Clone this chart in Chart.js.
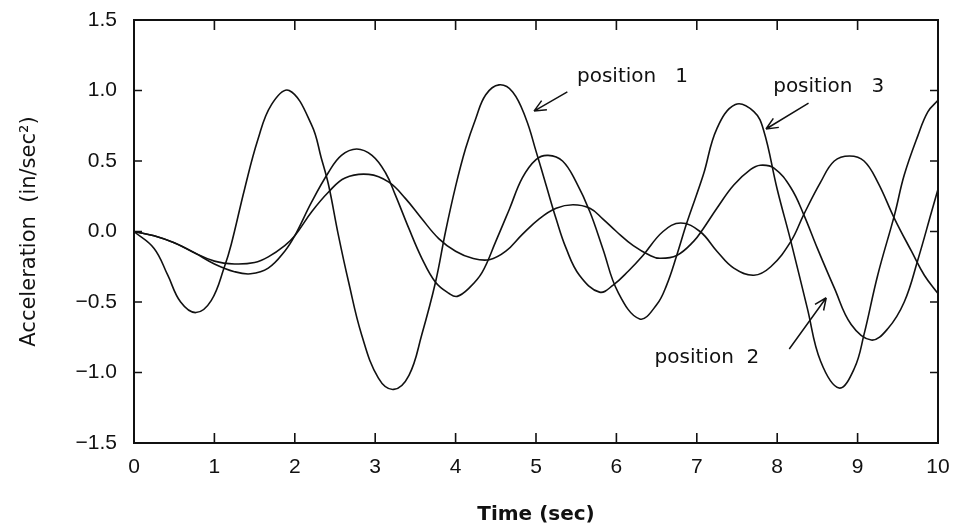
<!DOCTYPE html>
<html>
<head>
<meta charset="utf-8">
<script src="https://cdn.jsdelivr.net/npm/chart.js@4.4.0/dist/chart.umd.min.js"></script>
<style>
  html, body { margin: 0; padding: 0; background: #fff; }
  #wrap { width: 955px; height: 531px; }
</style>
</head>
<body>
<div id="wrap"><canvas id="grafico" width="955" height="531"></canvas></div>
<script>
// acceleration records, time in seconds, acceleration in in/sec^2
const timeP1 = [0, 0.25, 0.42, 0.58, 0.77, 0.96, 1.125, 1.21, 1.375, 1.54, 1.71, 1.93, 2.21, 2.33, 2.42, 2.54, 2.67, 2.83, 3.04, 3.23, 3.42, 3.58, 3.75, 3.875, 4.0, 4.125, 4.25, 4.375, 4.54, 4.71, 4.875, 5.0, 5.125, 5.25, 5.375, 5.54, 5.79, 5.96, 6.15, 6.33, 6.58, 6.8, 7.04, 7.25, 7.46, 7.71, 7.92, 8.17, 8.33, 8.54, 8.71, 8.9, 9.08, 9.25, 9.46, 9.67, 9.83, 10];
const accP1 = [0, -0.12, -0.31, -0.50, -0.575, -0.49, -0.25, -0.09, 0.30, 0.65, 0.90, 1.0, 0.755, 0.52, 0.33, -0.02, -0.36, -0.73, -1.04, -1.12, -1.02, -0.73, -0.36, 0.0, 0.32, 0.59, 0.80, 0.97, 1.04, 0.99, 0.80, 0.57, 0.33, 0.09, -0.12, -0.31, -0.43, -0.38, -0.28, -0.17, 0.0, 0.06, 0.0, -0.14, -0.26, -0.31, -0.25, -0.07, 0.12, 0.35, 0.50, 0.535, 0.50, 0.35, 0.09, -0.14, -0.31, -0.44];

const timeP2 = [0, 0.25, 0.5, 0.75, 1.0, 1.25, 1.5, 1.67, 1.875, 2.0, 2.21, 2.42, 2.625, 2.92, 3.17, 3.375, 3.58, 3.79, 4.0, 4.21, 4.42, 4.625, 4.83, 5.04, 5.25, 5.46, 5.67, 5.83, 6.0, 6.21, 6.42, 6.54, 6.75, 6.96, 7.08, 7.25, 7.46, 7.67, 7.79, 7.96, 8.17, 8.33, 8.5, 8.71, 8.92, 9.17, 9.375, 9.58, 9.75, 9.92, 10];
const accP2 = [0, -0.03, -0.08, -0.15, -0.21, -0.23, -0.22, -0.18, -0.10, -0.03, 0.14, 0.28, 0.38, 0.405, 0.35, 0.235, 0.09, -0.05, -0.14, -0.19, -0.20, -0.14, -0.02, 0.09, 0.165, 0.19, 0.165, 0.09, 0.0, -0.10, -0.17, -0.19, -0.17, -0.07, 0.02, 0.165, 0.33, 0.44, 0.47, 0.45, 0.31, 0.12, -0.12, -0.40, -0.66, -0.77, -0.69, -0.50, -0.20, 0.14, 0.30];

const timeP3 = [0, 0.25, 0.5, 0.75, 1.0, 1.25, 1.45, 1.67, 1.875, 2.0, 2.21, 2.42, 2.58, 2.77, 2.96, 3.125, 3.25, 3.42, 3.58, 3.75, 3.92, 4.02, 4.17, 4.33, 4.5, 4.67, 4.83, 5.0, 5.15, 5.33, 5.5, 5.67, 5.83, 6.02, 6.29, 6.5, 6.625, 6.75, 6.875, 7.08, 7.25, 7.48, 7.71, 7.83, 8.0, 8.17, 8.375, 8.54, 8.77, 8.96, 9.08, 9.25, 9.46, 9.58, 9.75, 9.875, 10];
const accP3 = [0, -0.03, -0.08, -0.15, -0.23, -0.285, -0.30, -0.26, -0.14, -0.03, 0.21, 0.42, 0.54, 0.585, 0.54, 0.42, 0.26, 0.02, -0.19, -0.36, -0.44, -0.46, -0.40, -0.29, -0.07, 0.16, 0.38, 0.51, 0.54, 0.50, 0.35, 0.14, -0.12, -0.43, -0.62, -0.52, -0.38, -0.17, 0.06, 0.40, 0.73, 0.90, 0.85, 0.72, 0.30, -0.07, -0.545, -0.92, -1.11, -0.97, -0.73, -0.31, 0.12, 0.40, 0.68, 0.85, 0.93];

const xTicks = [0, 1, 2, 3, 4, 5, 6, 7, 8, 9, 10];
const yTicks = [-1.5, -1.0, -0.5, 0.0, 0.5, 1.0, 1.5];

// curve labels, anchored in data units (time, acceleration)
const labelNames = ["position   1", "position  2", "position   3"];
const labelAt = [[5.51, 1.095], [6.475, -0.897], [7.95, 1.025]];
const arrowFrom = [[5.39, 0.99], [8.15, -0.833], [8.39, 0.91]];
const arrowTo = [[4.975, 0.854], [8.61, -0.47], [7.86, 0.727]];

const ink = "#111";
const pts = (t, a) => t.map((x, i) => ({ x: x, y: a[i] }));

const serie = (label, t, a) => ({
  label: label,
  data: pts(t, a),
  borderColor: ink,
  borderWidth: 1.6,
  pointRadius: 0,
  fill: false,
  tension: 0.4,
});

// box around the plot with inward tick marks on all four sides
const moldura = {
  id: "moldura",
  afterDatasetsDraw(chart) {
    const { ctx, chartArea: a, scales: { x, y } } = chart;
    ctx.save();
    ctx.strokeStyle = ink;
    ctx.lineWidth = 2;
    ctx.strokeRect(a.left, a.top, a.right - a.left, a.bottom - a.top);
    ctx.lineWidth = 1.6;
    ctx.beginPath();
    xTicks.forEach(v => {
      const px = x.getPixelForValue(v);
      ctx.moveTo(px, a.bottom); ctx.lineTo(px, a.bottom - 10);
      ctx.moveTo(px, a.top); ctx.lineTo(px, a.top + 10);
    });
    yTicks.forEach(v => {
      const py = y.getPixelForValue(v);
      ctx.moveTo(a.left, py); ctx.lineTo(a.left + 8, py);
      ctx.moveTo(a.right, py); ctx.lineTo(a.right - 8, py);
    });
    ctx.stroke();
    ctx.restore();
  }
};

// text labels with open arrows pointing at each curve
const rotulos = {
  id: "rotulos",
  afterDatasetsDraw(chart) {
    const { ctx, scales: { x, y } } = chart;
    ctx.save();
    ctx.fillStyle = ink;
    ctx.strokeStyle = ink;
    ctx.lineWidth = 1.5;
    ctx.font = "20px 'DejaVu Sans'";
    ctx.textBaseline = "middle";
    ctx.textAlign = "left";
    labelNames.forEach((txt, i) => {
      ctx.fillText(txt, x.getPixelForValue(labelAt[i][0]), y.getPixelForValue(labelAt[i][1]));
      const x0 = x.getPixelForValue(arrowFrom[i][0]), y0 = y.getPixelForValue(arrowFrom[i][1]);
      const x1 = x.getPixelForValue(arrowTo[i][0]), y1 = y.getPixelForValue(arrowTo[i][1]);
      const ang = Math.atan2(y1 - y0, x1 - x0);
      ctx.beginPath();
      ctx.moveTo(x0, y0);
      ctx.lineTo(x1, y1);
      [0.42, -0.42].forEach(d => {
        ctx.moveTo(x1, y1);
        ctx.lineTo(x1 - 13 * Math.cos(ang + d), y1 - 13 * Math.sin(ang + d));
      });
      ctx.stroke();
    });
    ctx.restore();
  }
};

const fonteTicks = { family: "'Liberation Sans'", size: 21 };

new Chart(document.getElementById("grafico").getContext("2d"), {
  type: "line",
  data: {
    datasets: [
      serie("position 1", timeP1, accP1),
      serie("position 2", timeP2, accP2),
      serie("position 3", timeP3, accP3),
    ],
  },
  options: {
    responsive: false,
    animation: false,
    devicePixelRatio: 1,
    layout: { padding: { top: 20, right: 17, left: 0, bottom: 0 } },
    plugins: { legend: { display: false }, tooltip: { enabled: false } },
    scales: {
      x: {
        type: "linear",
        min: 0,
        max: 10,
        afterBuildTicks: s => { s.ticks = xTicks.map(v => ({ value: v })); },
        afterFit: s => { s.height = 88; s.paddingLeft = 0; s.paddingRight = 0; },
        grid: { display: false, drawTicks: false },
        border: { display: false },
        ticks: { color: ink, font: fonteTicks, padding: 12, maxRotation: 0 },
        title: {
          display: true,
          text: "Time (sec)",
          color: ink,
          font: { family: "'DejaVu Sans'", size: 20, weight: "bold" },
          padding: { top: 0, bottom: 4 },
        },
      },
      y: {
        type: "linear",
        min: -1.5,
        max: 1.5,
        afterBuildTicks: s => { s.ticks = yTicks.map(v => ({ value: v })); },
        afterFit: s => { s.width = 134; s.paddingTop = 0; s.paddingBottom = 0; },
        grid: { display: false, drawTicks: false },
        border: { display: false },
        ticks: {
          color: ink,
          font: fonteTicks,
          padding: 17,
          callback: v => (v < 0 ? "\u2212" : "") + Math.abs(v).toFixed(1),
        },
        title: {
          display: true,
          text: "Acceleration  (in/sec\u00b2)",
          color: ink,
          font: { family: "'DejaVu Sans'", size: 21 },
          padding: { top: 17, bottom: 0 },
        },
      },
    },
  },
  plugins: [moldura, rotulos],
});
</script>
</body>
</html>
